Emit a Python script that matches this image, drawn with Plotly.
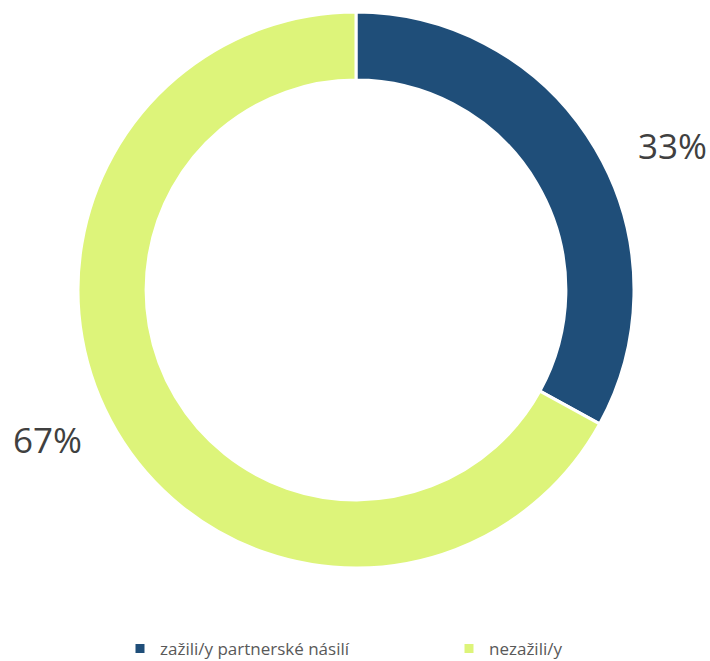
import plotly.graph_objects as go

labels = ["zažili/y partnerské násilí", "nezažili/y"]
values = [33, 67]
colors = ["#1F4E79", "#DDF47A"]

W, H = 710, 661
cx, cy, r = 356, 290, 278

fig = go.Figure(go.Pie(
    labels=labels,
    values=values,
    hole=0.755,
    sort=False,
    direction="clockwise",
    rotation=0,
    marker=dict(colors=colors, line=dict(color="white", width=3)),
    textinfo="none",
    hoverinfo="label+percent",
    domain=dict(x=[(cx - r) / W, (cx + r) / W],
                y=[1 - (cy + r) / H, 1 - (cy - r) / H]),
))

label_pos = [(672, 145), (48, 440)]
for v, (px, py) in zip(values, label_pos):
    fig.add_annotation(
        x=px / W, y=1 - py / H, xref="paper", yref="paper",
        xanchor="center", yanchor="middle",
        text=f"{v}%", showarrow=False,
        font=dict(family="Open Sans", size=35, color="#404040"),
    )

fig.update_layout(
    width=W, height=H,
    margin=dict(l=0, r=0, t=0, b=0, autoexpand=False),
    paper_bgcolor="white",
    plot_bgcolor="white",
    showlegend=True,
    legend=dict(
        orientation="h",
        x=120 / W, xanchor="left",
        y=1 - 649 / H, yanchor="middle",
        entrywidth=284, entrywidthmode="pixels",
        font=dict(family="Open Sans", size=17, color="#595959"),
        itemclick=False,
    ),
    font=dict(family="Open Sans"),
)

fig.write_html(
    "out.html",
    config={"displayModeBar": False},
    post_script="document.body.style.margin='0';document.body.style.overflow='hidden';",
)
